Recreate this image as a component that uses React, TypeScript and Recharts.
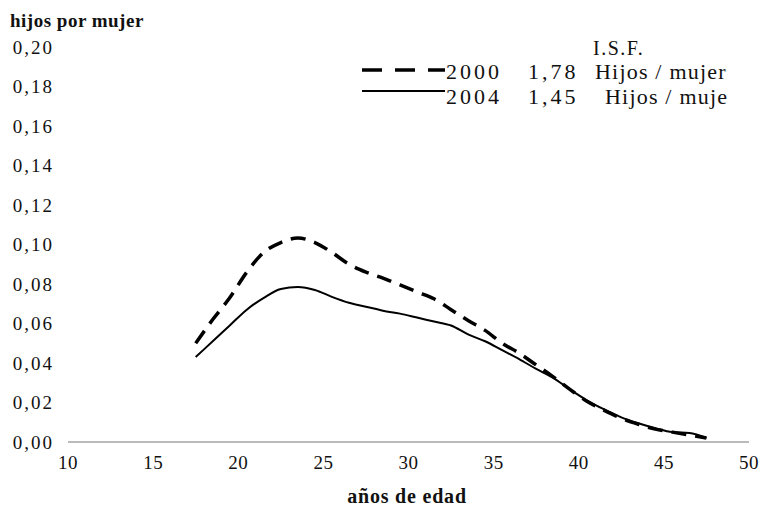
import { LineChart, Line, XAxis, YAxis } from "recharts";

// edades (punto medio de cada año)
const ages = [
  17.5, 18.5, 19.5, 20.5, 21.5, 22.5, 23.5, 24.5, 25.5, 26.5, 27.5, 28.5, 29.5,
  30.5, 31.5, 32.5, 33.5, 34.5, 35.5, 36.5, 37.5, 38.5, 39.5, 40.5, 41.5, 42.5,
  43.5, 44.5, 45.5, 46.5, 47.5,
];

// tasas de fecundidad por edad, 2000
const rates2000 = [
  0.05, 0.062, 0.073, 0.086, 0.096, 0.101, 0.1033, 0.101, 0.096, 0.09, 0.086,
  0.083, 0.0795, 0.076, 0.0725, 0.067, 0.0615, 0.0565, 0.05, 0.045, 0.039,
  0.033, 0.0265, 0.0205, 0.016, 0.012, 0.009, 0.0065, 0.005, 0.0035, 0.002,
];

// tasas de fecundidad por edad, 2004
const rates2004 = [
  0.043, 0.051, 0.059, 0.067, 0.073, 0.0775, 0.0785, 0.077, 0.0735, 0.0705,
  0.0685, 0.0665, 0.065, 0.063, 0.061, 0.059, 0.0545, 0.051, 0.0465, 0.042,
  0.037, 0.0325, 0.0265, 0.021, 0.0165, 0.0125, 0.0095, 0.007, 0.005, 0.0045,
  0.002,
];

const xTicks = [10, 15, 20, 25, 30, 35, 40, 45, 50];
const yTicks = [0, 0.02, 0.04, 0.06, 0.08, 0.1, 0.12, 0.14, 0.16, 0.18, 0.2];

const legendRows = [
  { year: "2000", isf: "1,78", unit: "Hijos / mujer", dashed: true },
  { year: "2004", isf: "1,45", unit: "Hijos / muje", dashed: false },
];

const data = ages.map((age, i) => ({
  age,
  y2000: rates2000[i],
  y2004: rates2004[i],
}));

const FONT = '"Liberation Serif", "Times New Roman", serif';

const fmt = (v: number) => v.toFixed(2).replace(".", ",");

export default function App() {
  return (
    <div
      style={{
        position: "absolute",
        left: 0,
        top: 0,
        width: 764,
        height: 506,
        background: "#fff",
        fontFamily: FONT,
      }}
    >
      <LineChart
        width={764}
        height={506}
        data={data}
        margin={{ top: 47, right: 15, left: 0, bottom: 0 }}
      >
        <XAxis
          dataKey="age"
          type="number"
          domain={[10, 50]}
          ticks={xTicks}
          height={64}
          axisLine={{ stroke: "#777", strokeWidth: 1 }}
          tickLine={false}
          tickSize={0}
          tickMargin={14}
          tick={{ fontSize: 19, fill: "#111", fontFamily: FONT, letterSpacing: 0.5 }}
        />
        <YAxis
          type="number"
          domain={[0, 0.2]}
          ticks={yTicks}
          width={68}
          axisLine={false}
          tickLine={false}
          tickSize={0}
          tickMargin={14}
          tickFormatter={fmt}
          tick={{ fontSize: 19, fill: "#111", fontFamily: FONT, letterSpacing: 2 }}
        />
        <Line
          dataKey="y2000"
          type="monotone"
          stroke="#000"
          strokeWidth={3.5}
          strokeDasharray="15 9"
          dot={false}
          isAnimationActive={false}
        />
        <Line
          dataKey="y2004"
          type="monotone"
          stroke="#000"
          strokeWidth={2}
          dot={false}
          isAnimationActive={false}
        />
      </LineChart>

      <svg
        width={764}
        height={506}
        style={{ position: "absolute", left: 0, top: 0, pointerEvents: "none" }}
      >
        <text x={10} y={27} fontSize={19} fontWeight="bold" fontFamily={FONT} letterSpacing={0.5} fill="#111">
          hijos por mujer
        </text>
        <text x={407} y={503} textAnchor="middle" fontSize={20} fontWeight="bold" fontFamily={FONT} letterSpacing={0.8} fill="#111">
          años de edad
        </text>
        <text x={593} y={55} fontSize={20} fontFamily={FONT} letterSpacing={1.5} fill="#111">
          I.S.F.
        </text>
        {legendRows.map((r, i) => {
          const ly = 70 + i * 21;
          const ty = 79 + i * 25;
          return (
            <g key={r.year}>
              <line
                x1={362}
                x2={445}
                y1={ly}
                y2={ly}
                stroke="#000"
                strokeWidth={r.dashed ? 3.5 : 2}
                strokeDasharray={r.dashed ? "20 13" : undefined}
              />
              <text x={446} y={ty} fontSize={22} fontFamily={FONT} letterSpacing={3} fill="#111">
                {r.year}
              </text>
              <text x={528} y={ty} fontSize={22} fontFamily={FONT} letterSpacing={3} fill="#111">
                {r.isf}
              </text>
              <text x={r.dashed ? 595 : 605} y={ty} fontSize={22} fontFamily={FONT} letterSpacing={1.2} fill="#111">
                {r.unit}
              </text>
            </g>
          );
        })}
      </svg>
    </div>
  );
}
